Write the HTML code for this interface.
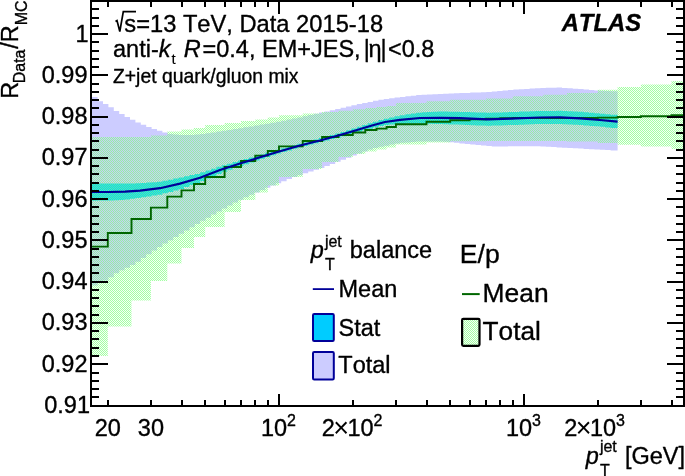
<!DOCTYPE html>
<html><head><meta charset="utf-8"><title>plot</title>
<style>html,body{margin:0;padding:0;background:#fff}svg{display:block}text{font-kerning:none;font-variant-ligatures:none;stroke:#000;stroke-width:0.35px;stroke-linejoin:round}</style></head>
<body>
<svg width="685" height="476" viewBox="0 0 685 476" font-family="'Liberation Sans', sans-serif" fill="#000">
<defs>
<pattern id="gh" width="2" height="2" patternUnits="userSpaceOnUse"><rect width="2" height="2" fill="#80ff80" fill-opacity="0.08"/><rect x="0" y="0" width="1" height="1" fill="#80ff80" fill-opacity="0.695"/><rect x="1" y="1" width="1" height="1" fill="#80ff80" fill-opacity="0.695"/></pattern>
<clipPath id="cp"><rect x="91" y="1" width="593" height="404.5"/></clipPath>
</defs>
<rect width="685" height="476" fill="#fff"/>
<g clip-path="url(#cp)">
<polygon fill="#ccccff" points="91.0,96.9 97.6,96.9 97.6,101.2 103.0,101.2 103.0,103.9 108.4,103.9 108.4,107.2 113.8,107.2 113.8,110.9 119.2,110.9 119.2,114.1 124.6,114.1 124.6,117.0 130.0,117.0 130.0,119.8 135.4,119.8 135.4,122.4 140.8,122.4 140.8,124.8 146.2,124.8 146.2,127.0 151.6,127.0 151.6,128.9 157.0,128.9 157.0,130.7 162.4,130.7 162.4,132.6 167.8,132.6 167.8,134.1 173.2,134.1 173.2,134.6 178.6,134.6 178.6,135.0 184.0,135.0 184.0,135.0 189.4,135.0 189.4,134.9 194.8,134.9 194.8,134.6 200.2,134.6 200.2,133.9 205.6,133.9 205.6,133.2 211.0,133.2 211.0,132.4 216.4,132.4 216.4,131.6 221.8,131.6 221.8,130.7 227.2,130.7 227.2,129.9 232.6,129.9 232.6,129.1 238.0,129.1 238.0,128.2 243.4,128.2 243.4,127.3 248.8,127.3 248.8,126.4 254.2,126.4 254.2,125.5 259.6,125.5 259.6,124.6 265.0,124.6 265.0,123.7 270.4,123.7 270.4,122.7 275.8,122.7 275.8,121.8 281.2,121.8 281.2,120.7 286.6,120.7 286.6,119.6 292.0,119.6 292.0,118.6 297.4,118.6 297.4,117.5 302.8,117.5 302.8,116.3 308.2,116.3 308.2,115.0 313.6,115.0 313.6,113.8 319.0,113.8 319.0,112.6 324.4,112.6 324.4,111.4 329.8,111.4 329.8,110.2 335.2,110.2 335.2,109.0 340.6,109.0 340.6,107.7 346.0,107.7 346.0,106.5 351.4,106.5 351.4,105.2 356.8,105.2 356.8,104.0 362.2,104.0 362.2,103.0 367.6,103.0 367.6,101.9 373.0,101.9 373.0,100.8 378.4,100.8 378.4,99.8 383.8,99.8 383.8,99.0 389.2,99.0 389.2,98.2 394.6,98.2 394.6,97.5 400.0,97.5 400.0,96.9 405.4,96.9 405.4,96.3 410.8,96.3 410.8,95.7 416.2,95.7 416.2,95.1 421.6,95.1 421.6,94.8 427.0,94.8 427.0,94.5 432.4,94.5 432.4,94.3 437.8,94.3 437.8,94.0 443.2,94.0 443.2,93.8 448.6,93.8 448.6,93.5 454.0,93.5 454.0,93.3 459.4,93.3 459.4,93.1 464.8,93.1 464.8,92.9 470.2,92.9 470.2,92.6 475.6,92.6 475.6,92.4 481.0,92.4 481.0,92.2 486.4,92.2 486.4,91.9 491.8,91.9 491.8,91.4 497.2,91.4 497.2,90.9 502.6,90.9 502.6,90.4 508.0,90.4 508.0,90.0 513.4,90.0 513.4,89.6 518.8,89.6 518.8,89.2 524.2,89.2 524.2,88.9 529.6,88.9 529.6,88.5 535.0,88.5 535.0,88.2 540.4,88.2 540.4,87.9 545.8,87.9 545.8,87.8 551.2,87.8 551.2,87.7 556.6,87.7 556.6,87.6 562.0,87.6 562.0,87.9 567.4,87.9 567.4,88.3 572.8,88.3 572.8,88.7 578.2,88.7 578.2,89.1 583.6,89.1 583.6,89.5 589.0,89.5 589.0,89.9 594.4,89.9 594.4,90.4 599.8,90.4 599.8,90.7 605.2,90.7 605.2,91.0 610.6,91.0 610.6,91.3 617.6,91.3 617.6,150.4 610.6,150.4 610.6,150.1 605.2,150.1 605.2,149.8 599.8,149.8 599.8,149.5 594.4,149.5 594.4,149.2 589.0,149.2 589.0,148.9 583.6,148.9 583.6,148.6 578.2,148.6 578.2,148.3 572.8,148.3 572.8,148.0 567.4,148.0 567.4,147.7 562.0,147.7 562.0,147.4 556.6,147.4 556.6,147.1 551.2,147.1 551.2,146.8 545.8,146.8 545.8,146.5 540.4,146.5 540.4,146.3 535.0,146.3 535.0,146.3 529.6,146.3 529.6,146.3 524.2,146.3 524.2,146.3 518.8,146.3 518.8,146.3 513.4,146.3 513.4,146.3 508.0,146.3 508.0,146.4 502.6,146.4 502.6,146.4 497.2,146.4 497.2,146.5 491.8,146.5 491.8,146.1 486.4,146.1 486.4,145.6 481.0,145.6 481.0,145.0 475.6,145.0 475.6,144.5 470.2,144.5 470.2,143.9 464.8,143.9 464.8,143.4 459.4,143.4 459.4,142.8 454.0,142.8 454.0,142.2 448.6,142.2 448.6,141.8 443.2,141.8 443.2,141.5 437.8,141.5 437.8,141.5 432.4,141.5 432.4,141.5 427.0,141.5 427.0,141.5 421.6,141.5 421.6,141.6 416.2,141.6 416.2,142.0 410.8,142.0 410.8,142.4 405.4,142.4 405.4,142.8 400.0,142.8 400.0,143.5 394.6,143.5 394.6,144.6 389.2,144.6 389.2,145.7 383.8,145.7 383.8,146.8 378.4,146.8 378.4,148.1 373.0,148.1 373.0,149.4 367.6,149.4 367.6,151.5 362.2,151.5 362.2,153.5 356.8,153.5 356.8,155.6 351.4,155.6 351.4,157.7 346.0,157.7 346.0,159.7 340.6,159.7 340.6,161.8 335.2,161.8 335.2,163.9 329.8,163.9 329.8,166.0 324.4,166.0 324.4,168.1 319.0,168.1 319.0,169.8 313.6,169.8 313.6,171.5 308.2,171.5 308.2,173.2 302.8,173.2 302.8,175.1 297.4,175.1 297.4,177.1 292.0,177.1 292.0,179.1 286.6,179.1 286.6,181.2 281.2,181.2 281.2,183.2 275.8,183.2 275.8,185.5 270.4,185.5 270.4,187.8 265.0,187.8 265.0,190.0 259.6,190.0 259.6,192.4 254.2,192.4 254.2,194.8 248.8,194.8 248.8,197.2 243.4,197.2 243.4,199.7 238.0,199.7 238.0,202.6 232.6,202.6 232.6,205.6 227.2,205.6 227.2,208.5 221.8,208.5 221.8,211.5 216.4,211.5 216.4,214.6 211.0,214.6 211.0,217.7 205.6,217.7 205.6,220.8 200.2,220.8 200.2,224.0 194.8,224.0 194.8,227.2 189.4,227.2 189.4,230.5 184.0,230.5 184.0,233.7 178.6,233.7 178.6,237.0 173.2,237.0 173.2,240.2 167.8,240.2 167.8,243.4 162.4,243.4 162.4,247.0 157.0,247.0 157.0,250.6 151.6,250.6 151.6,254.3 146.2,254.3 146.2,258.0 140.8,258.0 140.8,261.7 135.4,261.7 135.4,264.9 130.0,264.9 130.0,267.8 124.6,267.8 124.6,270.2 119.2,270.2 119.2,273.3 113.8,273.3 113.8,277.2 108.4,277.2 108.4,280.4 103.0,280.4 103.0,282.6 97.6,282.6 97.6,285.4 91.0,285.4"/>
<polygon fill="#00ccff" points="91.0,183.3 97.6,183.3 97.6,183.4 103.0,183.4 103.0,183.5 108.4,183.5 108.4,183.5 113.8,183.5 113.8,183.5 119.2,183.5 119.2,183.5 124.6,183.5 124.6,183.6 130.0,183.6 130.0,183.5 135.4,183.5 135.4,183.3 140.8,183.3 140.8,183.0 146.2,183.0 146.2,182.6 151.6,182.6 151.6,182.2 157.0,182.2 157.0,181.7 162.4,181.7 162.4,180.7 167.8,180.7 167.8,179.7 173.2,179.7 173.2,178.6 178.6,178.6 178.6,177.5 184.0,177.5 184.0,176.3 189.4,176.3 189.4,175.1 194.8,175.1 194.8,173.9 200.2,173.9 200.2,172.3 205.6,172.3 205.6,170.5 211.0,170.5 211.0,168.7 216.4,168.7 216.4,166.8 221.8,166.8 221.8,165.3 227.2,165.3 227.2,163.7 232.6,163.7 232.6,162.1 238.0,162.1 238.0,160.5 243.4,160.5 243.4,159.0 248.8,159.0 248.8,157.5 254.2,157.5 254.2,156.0 259.6,156.0 259.6,154.4 265.0,154.4 265.0,152.8 270.4,152.8 270.4,151.3 275.8,151.3 275.8,149.7 281.2,149.7 281.2,148.2 286.6,148.2 286.6,146.7 292.0,146.7 292.0,145.2 297.4,145.2 297.4,143.8 302.8,143.8 302.8,142.4 308.2,142.4 308.2,141.0 313.6,141.0 313.6,139.6 319.0,139.6 319.0,138.1 324.4,138.1 324.4,136.6 329.8,136.6 329.8,135.0 335.2,135.0 335.2,133.5 340.6,133.5 340.6,131.9 346.0,131.9 346.0,130.3 351.4,130.3 351.4,128.6 356.8,128.6 356.8,126.8 362.2,126.8 362.2,125.1 367.6,125.1 367.6,123.3 373.0,123.3 373.0,121.7 378.4,121.7 378.4,120.1 383.8,120.1 383.8,118.7 389.2,118.7 389.2,117.5 394.6,117.5 394.6,116.2 400.0,116.2 400.0,115.2 405.4,115.2 405.4,114.3 410.8,114.3 410.8,113.5 416.2,113.5 416.2,112.7 421.6,112.7 421.6,112.2 427.0,112.2 427.0,112.0 432.4,112.0 432.4,111.8 437.8,111.8 437.8,111.6 443.2,111.6 443.2,111.6 448.6,111.6 448.6,111.7 454.0,111.7 454.0,111.8 459.4,111.8 459.4,111.9 464.8,111.9 464.8,112.1 470.2,112.1 470.2,112.2 475.6,112.2 475.6,112.4 481.0,112.4 481.0,112.6 486.4,112.6 486.4,112.8 491.8,112.8 491.8,112.6 497.2,112.6 497.2,112.4 502.6,112.4 502.6,112.2 508.0,112.2 508.0,112.1 513.4,112.1 513.4,111.9 518.8,111.9 518.8,111.6 524.2,111.6 524.2,111.4 529.6,111.4 529.6,111.2 535.0,111.2 535.0,111.0 540.4,111.0 540.4,110.9 545.8,110.9 545.8,110.9 551.2,110.9 551.2,110.9 556.6,110.9 556.6,110.8 562.0,110.8 562.0,111.0 567.4,111.0 567.4,111.3 572.8,111.3 572.8,111.5 578.2,111.5 578.2,111.8 583.6,111.8 583.6,112.3 589.0,112.3 589.0,112.7 594.4,112.7 594.4,113.2 599.8,113.2 599.8,113.7 605.2,113.7 605.2,114.2 610.6,114.2 610.6,114.8 617.6,114.8 617.6,128.0 610.6,128.0 610.6,127.4 605.2,127.4 605.2,126.8 599.8,126.8 599.8,126.3 594.4,126.3 594.4,125.9 589.0,125.9 589.0,125.4 583.6,125.4 583.6,124.9 578.2,124.9 578.2,124.7 572.8,124.7 572.8,124.4 567.4,124.4 567.4,124.2 562.0,124.2 562.0,124.0 556.6,124.0 556.6,124.0 551.2,124.0 551.2,124.0 545.8,124.0 545.8,124.0 540.4,124.0 540.4,124.1 535.0,124.1 535.0,124.3 529.6,124.3 529.6,124.5 524.2,124.5 524.2,124.7 518.8,124.7 518.8,124.9 513.4,124.9 513.4,125.1 508.0,125.1 508.0,125.3 502.6,125.3 502.6,125.4 497.2,125.4 497.2,125.6 491.8,125.6 491.8,125.8 486.4,125.8 486.4,125.6 481.0,125.6 481.0,125.4 475.6,125.4 475.6,125.2 470.2,125.2 470.2,124.9 464.8,124.9 464.8,124.7 459.4,124.7 459.4,124.5 454.0,124.5 454.0,124.4 448.6,124.4 448.6,124.2 443.2,124.2 443.2,124.1 437.8,124.1 437.8,123.9 432.4,123.9 432.4,123.8 427.0,123.8 427.0,123.7 421.6,123.7 421.6,123.5 416.2,123.5 416.2,123.7 410.8,123.7 410.8,123.8 405.4,123.8 405.4,123.9 400.0,123.9 400.0,124.1 394.6,124.1 394.6,124.5 389.2,124.5 389.2,124.9 383.8,124.9 383.8,126.0 378.4,126.0 378.4,127.3 373.0,127.3 373.0,128.7 367.6,128.7 367.6,130.2 362.2,130.2 362.2,131.7 356.8,131.7 356.8,133.1 351.4,133.1 351.4,134.6 346.0,134.6 346.0,136.2 340.6,136.2 340.6,137.7 335.2,137.7 335.2,139.1 329.8,139.1 329.8,140.5 324.4,140.5 324.4,141.9 319.0,141.9 319.0,143.3 313.6,143.3 313.6,144.6 308.2,144.6 308.2,145.9 302.8,145.9 302.8,147.2 297.4,147.2 297.4,148.8 292.0,148.8 292.0,150.4 286.6,150.4 286.6,152.0 281.2,152.0 281.2,153.6 275.8,153.6 275.8,155.3 270.4,155.3 270.4,157.1 265.0,157.1 265.0,158.8 259.6,158.8 259.6,160.5 254.2,160.5 254.2,162.4 248.8,162.4 248.8,164.2 243.4,164.2 243.4,166.0 238.0,166.0 238.0,167.9 232.6,167.9 232.6,169.8 227.2,169.8 227.2,171.8 221.8,171.8 221.8,173.9 216.4,173.9 216.4,176.2 211.0,176.2 211.0,178.6 205.6,178.6 205.6,181.0 200.2,181.0 200.2,183.2 194.8,183.2 194.8,185.1 189.4,185.1 189.4,187.0 184.0,187.0 184.0,188.9 178.6,188.9 178.6,190.5 173.2,190.5 173.2,191.9 167.8,191.9 167.8,193.3 162.4,193.3 162.4,194.7 157.0,194.7 157.0,195.6 151.6,195.6 151.6,196.5 146.2,196.5 146.2,197.3 140.8,197.3 140.8,198.1 135.4,198.1 135.4,198.8 130.0,198.8 130.0,199.5 124.6,199.5 124.6,200.0 119.2,200.0 119.2,200.2 113.8,200.2 113.8,200.4 108.4,200.4 108.4,200.5 103.0,200.5 103.0,200.6 97.6,200.6 97.6,200.7 91.0,200.7"/>
<polygon fill="url(#gh)" points="91.0,137.0 107.8,137.0 107.8,137.0 131.5,137.0 131.5,137.0 150.9,137.0 150.9,135.4 167.3,135.4 167.3,131.5 181.5,131.5 181.5,129.6 194.0,129.6 194.0,128.0 205.2,128.0 205.2,125.0 224.6,125.0 224.6,123.0 241.0,123.0 241.0,121.0 255.3,121.0 255.3,119.4 267.8,119.4 267.8,117.4 279.0,117.4 279.0,115.2 302.7,115.2 302.7,113.4 322.1,113.4 322.1,112.0 338.5,112.0 338.5,110.7 352.8,110.7 352.8,109.2 365.3,109.2 365.3,108.0 376.5,108.0 376.5,107.0 386.6,107.0 386.6,106.0 395.9,106.0 395.9,103.0 426.5,103.0 426.5,101.2 450.2,101.2 450.2,99.7 469.6,99.7 469.6,99.7 486.0,99.7 486.0,98.4 500.3,98.4 500.3,98.4 512.8,98.4 512.8,96.2 524.0,96.2 524.0,96.2 543.4,96.2 543.4,94.7 567.1,94.7 567.1,92.9 597.8,92.9 597.8,89.8 617.6,89.8 617.6,87.0 640.9,87.0 640.9,84.4 671.5,84.4 671.5,81.0 685.0,81.0 685.0,149.0 671.5,149.0 671.5,146.6 640.9,146.6 640.9,144.8 617.6,144.8 617.6,143.0 597.8,143.0 597.8,141.5 567.1,141.5 567.1,140.9 543.4,140.9 543.4,141.0 524.0,141.0 524.0,141.0 512.8,141.0 512.8,141.0 500.3,141.0 500.3,141.0 486.0,141.0 486.0,141.2 469.6,141.2 469.6,141.2 450.2,141.2 450.2,142.5 426.5,142.5 426.5,144.6 395.9,144.6 395.9,147.6 386.6,147.6 386.6,149.5 376.5,149.5 376.5,151.5 365.3,151.5 365.3,154.0 352.8,154.0 352.8,157.0 338.5,157.0 338.5,162.0 322.1,162.0 322.1,169.0 302.7,169.0 302.7,177.0 279.0,177.0 279.0,185.6 267.8,185.6 267.8,192.4 255.3,192.4 255.3,200.0 241.0,200.0 241.0,212.0 224.6,212.0 224.6,227.0 205.2,227.0 205.2,237.0 194.0,237.0 194.0,248.0 181.5,248.0 181.5,263.6 167.3,263.6 167.3,281.0 150.9,281.0 150.9,300.6 131.5,300.6 131.5,326.4 107.8,326.4 107.8,356.0 91.0,356.0"/>
<polyline fill="none" stroke="#006600" stroke-width="1.9" stroke-linejoin="miter" points="91.0,246.6 107.8,246.6 107.8,233.0 131.5,233.0 131.5,219.0 150.9,219.0 150.9,207.6 167.3,207.6 167.3,196.6 181.5,196.6 181.5,190.4 194.0,190.4 194.0,184.0 205.2,184.0 205.2,177.0 224.6,177.0 224.6,167.0 241.0,167.0 241.0,161.0 255.3,161.0 255.3,155.6 267.8,155.6 267.8,151.0 279.0,151.0 279.0,146.4 302.7,146.4 302.7,141.0 322.1,141.0 322.1,137.0 338.5,137.0 338.5,135.0 352.8,135.0 352.8,132.5 365.3,132.5 365.3,130.0 376.5,130.0 376.5,128.6 386.6,128.6 386.6,127.0 395.9,127.0 395.9,124.3 426.5,124.3 426.5,121.8 450.2,121.8 450.2,120.2 469.6,120.2 469.6,119.3 486.0,119.3 486.0,118.6 500.3,118.6 500.3,118.2 512.8,118.2 512.8,118.0 524.0,118.0 524.0,118.0 543.4,118.0 543.4,118.0 567.1,118.0 567.1,118.0 597.8,118.0 597.8,117.6 617.6,117.6 617.6,117.0 640.9,117.0 640.9,116.2 671.5,116.2 671.5,115.3 685.0,115.3"/>
<polyline fill="none" stroke="#000099" stroke-width="2.2" stroke-linejoin="round" points="91.0,192.0 108.0,192.0 125.0,191.7 140.0,190.6 160.0,188.2 180.0,183.6 200.0,177.8 220.0,170.0 240.0,163.5 260.0,157.3 280.0,151.2 300.0,145.5 320.0,140.5 340.0,135.0 357.0,130.0 372.0,125.5 385.0,122.0 400.0,119.8 420.0,118.0 440.0,117.8 460.0,118.2 488.0,119.3 510.0,118.6 540.0,117.5 560.0,117.4 580.0,118.3 600.0,120.0 617.6,121.7"/>
</g>
<g stroke="#000" stroke-width="2" fill="none" shape-rendering="crispEdges">
<rect x="91" y="1" width="593" height="405"/>
<line x1="92" x2="99.3" y1="397.25" y2="397.25"/>
<line x1="683" x2="675.7" y1="397.25" y2="397.25"/>
<line x1="92" x2="99.3" y1="389.00" y2="389.00"/>
<line x1="683" x2="675.7" y1="389.00" y2="389.00"/>
<line x1="92" x2="99.3" y1="380.75" y2="380.75"/>
<line x1="683" x2="675.7" y1="380.75" y2="380.75"/>
<line x1="92" x2="99.3" y1="372.50" y2="372.50"/>
<line x1="683" x2="675.7" y1="372.50" y2="372.50"/>
<line x1="92" x2="108.2" y1="364.24" y2="364.24"/>
<line x1="683" x2="666.8" y1="364.24" y2="364.24"/>
<line x1="92" x2="99.3" y1="355.99" y2="355.99"/>
<line x1="683" x2="675.7" y1="355.99" y2="355.99"/>
<line x1="92" x2="99.3" y1="347.74" y2="347.74"/>
<line x1="683" x2="675.7" y1="347.74" y2="347.74"/>
<line x1="92" x2="99.3" y1="339.49" y2="339.49"/>
<line x1="683" x2="675.7" y1="339.49" y2="339.49"/>
<line x1="92" x2="99.3" y1="331.24" y2="331.24"/>
<line x1="683" x2="675.7" y1="331.24" y2="331.24"/>
<line x1="92" x2="108.2" y1="322.99" y2="322.99"/>
<line x1="683" x2="666.8" y1="322.99" y2="322.99"/>
<line x1="92" x2="99.3" y1="314.74" y2="314.74"/>
<line x1="683" x2="675.7" y1="314.74" y2="314.74"/>
<line x1="92" x2="99.3" y1="306.49" y2="306.49"/>
<line x1="683" x2="675.7" y1="306.49" y2="306.49"/>
<line x1="92" x2="99.3" y1="298.24" y2="298.24"/>
<line x1="683" x2="675.7" y1="298.24" y2="298.24"/>
<line x1="92" x2="99.3" y1="289.98" y2="289.98"/>
<line x1="683" x2="675.7" y1="289.98" y2="289.98"/>
<line x1="92" x2="108.2" y1="281.73" y2="281.73"/>
<line x1="683" x2="666.8" y1="281.73" y2="281.73"/>
<line x1="92" x2="99.3" y1="273.48" y2="273.48"/>
<line x1="683" x2="675.7" y1="273.48" y2="273.48"/>
<line x1="92" x2="99.3" y1="265.23" y2="265.23"/>
<line x1="683" x2="675.7" y1="265.23" y2="265.23"/>
<line x1="92" x2="99.3" y1="256.98" y2="256.98"/>
<line x1="683" x2="675.7" y1="256.98" y2="256.98"/>
<line x1="92" x2="99.3" y1="248.73" y2="248.73"/>
<line x1="683" x2="675.7" y1="248.73" y2="248.73"/>
<line x1="92" x2="108.2" y1="240.48" y2="240.48"/>
<line x1="683" x2="666.8" y1="240.48" y2="240.48"/>
<line x1="92" x2="99.3" y1="232.23" y2="232.23"/>
<line x1="683" x2="675.7" y1="232.23" y2="232.23"/>
<line x1="92" x2="99.3" y1="223.98" y2="223.98"/>
<line x1="683" x2="675.7" y1="223.98" y2="223.98"/>
<line x1="92" x2="99.3" y1="215.72" y2="215.72"/>
<line x1="683" x2="675.7" y1="215.72" y2="215.72"/>
<line x1="92" x2="99.3" y1="207.47" y2="207.47"/>
<line x1="683" x2="675.7" y1="207.47" y2="207.47"/>
<line x1="92" x2="108.2" y1="199.22" y2="199.22"/>
<line x1="683" x2="666.8" y1="199.22" y2="199.22"/>
<line x1="92" x2="99.3" y1="190.97" y2="190.97"/>
<line x1="683" x2="675.7" y1="190.97" y2="190.97"/>
<line x1="92" x2="99.3" y1="182.72" y2="182.72"/>
<line x1="683" x2="675.7" y1="182.72" y2="182.72"/>
<line x1="92" x2="99.3" y1="174.47" y2="174.47"/>
<line x1="683" x2="675.7" y1="174.47" y2="174.47"/>
<line x1="92" x2="99.3" y1="166.22" y2="166.22"/>
<line x1="683" x2="675.7" y1="166.22" y2="166.22"/>
<line x1="92" x2="108.2" y1="157.97" y2="157.97"/>
<line x1="683" x2="666.8" y1="157.97" y2="157.97"/>
<line x1="92" x2="99.3" y1="149.72" y2="149.72"/>
<line x1="683" x2="675.7" y1="149.72" y2="149.72"/>
<line x1="92" x2="99.3" y1="141.46" y2="141.46"/>
<line x1="683" x2="675.7" y1="141.46" y2="141.46"/>
<line x1="92" x2="99.3" y1="133.21" y2="133.21"/>
<line x1="683" x2="675.7" y1="133.21" y2="133.21"/>
<line x1="92" x2="99.3" y1="124.96" y2="124.96"/>
<line x1="683" x2="675.7" y1="124.96" y2="124.96"/>
<line x1="92" x2="108.2" y1="116.71" y2="116.71"/>
<line x1="683" x2="666.8" y1="116.71" y2="116.71"/>
<line x1="92" x2="99.3" y1="108.46" y2="108.46"/>
<line x1="683" x2="675.7" y1="108.46" y2="108.46"/>
<line x1="92" x2="99.3" y1="100.21" y2="100.21"/>
<line x1="683" x2="675.7" y1="100.21" y2="100.21"/>
<line x1="92" x2="99.3" y1="91.96" y2="91.96"/>
<line x1="683" x2="675.7" y1="91.96" y2="91.96"/>
<line x1="92" x2="99.3" y1="83.71" y2="83.71"/>
<line x1="683" x2="675.7" y1="83.71" y2="83.71"/>
<line x1="92" x2="108.2" y1="75.46" y2="75.46"/>
<line x1="683" x2="666.8" y1="75.46" y2="75.46"/>
<line x1="92" x2="99.3" y1="67.20" y2="67.20"/>
<line x1="683" x2="675.7" y1="67.20" y2="67.20"/>
<line x1="92" x2="99.3" y1="58.95" y2="58.95"/>
<line x1="683" x2="675.7" y1="58.95" y2="58.95"/>
<line x1="92" x2="99.3" y1="50.70" y2="50.70"/>
<line x1="683" x2="675.7" y1="50.70" y2="50.70"/>
<line x1="92" x2="99.3" y1="42.45" y2="42.45"/>
<line x1="683" x2="675.7" y1="42.45" y2="42.45"/>
<line x1="92" x2="108.2" y1="34.20" y2="34.20"/>
<line x1="683" x2="666.8" y1="34.20" y2="34.20"/>
<line x1="92" x2="99.3" y1="25.95" y2="25.95"/>
<line x1="683" x2="675.7" y1="25.95" y2="25.95"/>
<line x1="92" x2="99.3" y1="17.70" y2="17.70"/>
<line x1="683" x2="675.7" y1="17.70" y2="17.70"/>
<line x1="92" x2="99.3" y1="9.45" y2="9.45"/>
<line x1="683" x2="675.7" y1="9.45" y2="9.45"/>
<line x1="107.75" x2="107.75" y1="405" y2="400.0"/>
<line x1="107.75" x2="107.75" y1="2" y2="7.0"/>
<line x1="150.89" x2="150.89" y1="405" y2="400.0"/>
<line x1="150.89" x2="150.89" y1="2" y2="7.0"/>
<line x1="181.50" x2="181.50" y1="405" y2="400.0"/>
<line x1="181.50" x2="181.50" y1="2" y2="7.0"/>
<line x1="205.25" x2="205.25" y1="405" y2="400.0"/>
<line x1="205.25" x2="205.25" y1="2" y2="7.0"/>
<line x1="224.65" x2="224.65" y1="405" y2="400.0"/>
<line x1="224.65" x2="224.65" y1="2" y2="7.0"/>
<line x1="241.05" x2="241.05" y1="405" y2="400.0"/>
<line x1="241.05" x2="241.05" y1="2" y2="7.0"/>
<line x1="255.26" x2="255.26" y1="405" y2="400.0"/>
<line x1="255.26" x2="255.26" y1="2" y2="7.0"/>
<line x1="267.79" x2="267.79" y1="405" y2="400.0"/>
<line x1="267.79" x2="267.79" y1="2" y2="7.0"/>
<line x1="279.00" x2="279.00" y1="405" y2="393.5"/>
<line x1="279.00" x2="279.00" y1="2" y2="13.5"/>
<line x1="352.75" x2="352.75" y1="405" y2="400.0"/>
<line x1="352.75" x2="352.75" y1="2" y2="7.0"/>
<line x1="395.89" x2="395.89" y1="405" y2="400.0"/>
<line x1="395.89" x2="395.89" y1="2" y2="7.0"/>
<line x1="426.50" x2="426.50" y1="405" y2="400.0"/>
<line x1="426.50" x2="426.50" y1="2" y2="7.0"/>
<line x1="450.25" x2="450.25" y1="405" y2="400.0"/>
<line x1="450.25" x2="450.25" y1="2" y2="7.0"/>
<line x1="469.65" x2="469.65" y1="405" y2="400.0"/>
<line x1="469.65" x2="469.65" y1="2" y2="7.0"/>
<line x1="486.05" x2="486.05" y1="405" y2="400.0"/>
<line x1="486.05" x2="486.05" y1="2" y2="7.0"/>
<line x1="500.26" x2="500.26" y1="405" y2="400.0"/>
<line x1="500.26" x2="500.26" y1="2" y2="7.0"/>
<line x1="512.79" x2="512.79" y1="405" y2="400.0"/>
<line x1="512.79" x2="512.79" y1="2" y2="7.0"/>
<line x1="524.00" x2="524.00" y1="405" y2="393.5"/>
<line x1="524.00" x2="524.00" y1="2" y2="13.5"/>
<line x1="597.75" x2="597.75" y1="405" y2="400.0"/>
<line x1="597.75" x2="597.75" y1="2" y2="7.0"/>
<line x1="640.89" x2="640.89" y1="405" y2="400.0"/>
<line x1="640.89" x2="640.89" y1="2" y2="7.0"/>
<line x1="671.50" x2="671.50" y1="405" y2="400.0"/>
<line x1="671.50" x2="671.50" y1="2" y2="7.0"/>
</g>
<g font-size="23.5">
<text x="90.0" y="412.9" text-anchor="end">0.91</text>
<text x="87.5" y="371.6" text-anchor="end">0.92</text>
<text x="87.5" y="330.4" text-anchor="end">0.93</text>
<text x="87.5" y="289.1" text-anchor="end">0.94</text>
<text x="87.5" y="247.9" text-anchor="end">0.95</text>
<text x="87.5" y="206.6" text-anchor="end">0.96</text>
<text x="87.5" y="165.4" text-anchor="end">0.97</text>
<text x="87.5" y="124.1" text-anchor="end">0.98</text>
<text x="87.5" y="82.9" text-anchor="end">0.99</text>
<text x="88.6" y="41.6" text-anchor="end">1</text>
<text x="107.8" y="436" text-anchor="middle">20</text>
<text x="150.9" y="436" text-anchor="middle">30</text>
<text x="296.0" y="436" text-anchor="end">10<tspan font-size="16" dy="-9.8">2</tspan></text>
<text x="382.5" y="436" text-anchor="end">2<tspan font-size="27" dx="-1.6" dy="1" style="stroke-width:0">×</tspan><tspan dx="-1.6" dy="-1">10</tspan><tspan font-size="16" dy="-9.8">2</tspan></text>
<text x="541.0" y="436" text-anchor="end">10<tspan font-size="16" dy="-9.8">3</tspan></text>
<text x="625.0" y="436" text-anchor="end">2<tspan font-size="27" dx="-1.6" dy="1" style="stroke-width:0">×</tspan><tspan dx="-1.6" dy="-1">10</tspan><tspan font-size="16" dy="-9.8">3</tspan></text>
</g>
<text x="585.8" y="463.7" font-size="23.5"><tspan font-style="italic">p</tspan><tspan font-size="16" dx="1" dy="-11.3">jet</tspan><tspan font-size="23.5" dx="8.2" dy="11.3">[GeV]</tspan></text>
<text x="600" y="475.6" font-size="16">T</text>
<text transform="translate(17.7,98.8) rotate(-90)" font-size="23.5">R<tspan font-size="16" dx="-1.5" dy="7.6">Data</tspan><tspan dx="0.8" dy="-7.6">/R</tspan><tspan font-size="16" dy="9.6">MC</tspan></text>
<path d="M115.5 21.5 L117 20.5 L119.8 31.5 L123.3 11.6 L136 11.6" fill="none" stroke="#000" stroke-width="1.7"/>
<text x="124.3" y="31.6" font-size="23.7">s=13 TeV, Data 2015-18</text>
<text x="113" y="57.4" font-size="23.5">anti-<tspan font-style="italic">k</tspan><tspan font-size="15" dx="1" dy="7" style="stroke-width:0.15px">t</tspan><tspan dy="-7" dx="1.6" font-style="italic"> R</tspan><tspan dx="1.8">=0.4, EM+JES,</tspan><tspan dx="-3.4"> |</tspan><tspan dx="-1.4">η</tspan><tspan dx="-1">|</tspan><tspan dx="1.4">&lt;0.8</tspan></text>
<text x="113" y="82.9" font-size="19.35">Z+jet quark/gluon mix</text>
<text x="561.7" y="31.1" font-size="23.8" font-weight="bold" font-style="italic">ATLAS</text>
<text x="310.8" y="257.8" font-size="23.5"><tspan font-style="italic">p</tspan><tspan font-size="16" dx="1" dy="-10.7">jet</tspan><tspan font-size="23.5" dx="8" dy="10.7">balance</tspan></text>
<text x="325" y="269.5" font-size="16">T</text>
<line x1="312.8" x2="334" y1="289.1" y2="289.1" stroke="#000099" stroke-width="1.8"/>
<text x="338.5" y="297" font-size="23.5">Mean</text>
<rect x="313" y="314" width="20.8" height="27" rx="1.2" fill="#00ccff" stroke="#000099" stroke-width="2"/>
<text x="338.5" y="335.8" font-size="23.5">Stat</text>
<rect x="313" y="352" width="20.8" height="27.5" rx="1.2" fill="#ccccff" stroke="#000099" stroke-width="2"/>
<text x="338.3" y="373" font-size="23.5">Total</text>
<text x="459.8" y="262.5" font-size="26.6">E/p</text>
<line x1="462" x2="479.7" y1="294.1" y2="294.1" stroke="#006600" stroke-width="2"/>
<text x="482.6" y="302" font-size="26.4">Mean</text>
<rect x="462.1" y="318.85" width="17.4" height="26.95" rx="1.2" fill="url(#gh)" stroke="#000" stroke-width="2.2"/>
<text x="482.6" y="340.2" font-size="26.2">Total</text>
</svg>
</body></html>
